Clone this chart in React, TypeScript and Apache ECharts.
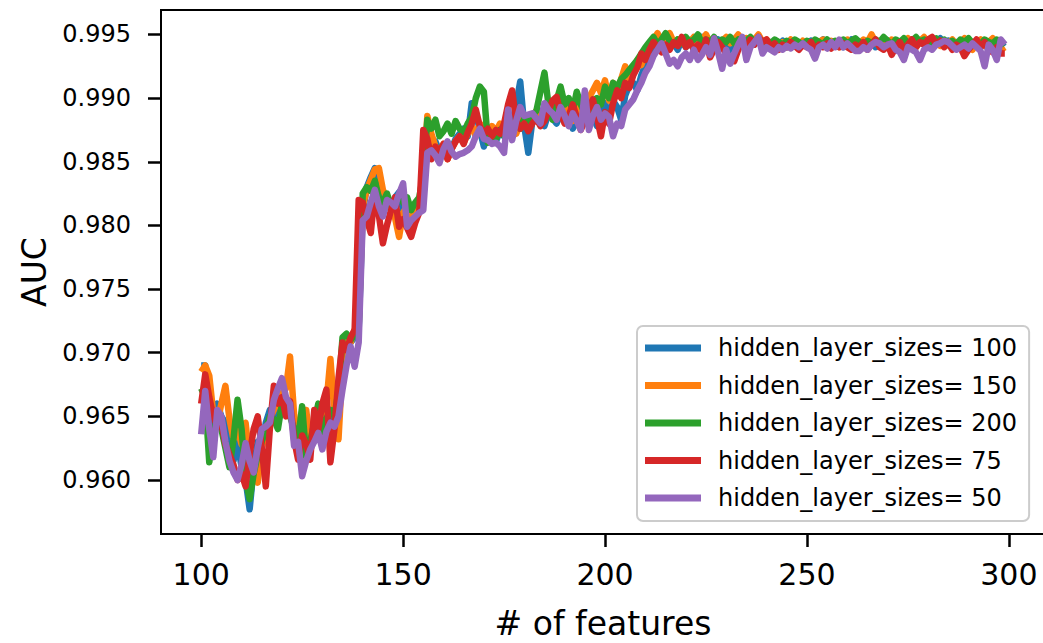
import React, { useEffect, useRef } from "react";
import * as echarts from "echarts";

const FONT = "DejaVu Sans";

// x values: number of features (100 .. 299)
const FEATURES = Array.from({ length: 200 }, (_, i) => 100 + i);
const X_TICKS = [100, 150, 200, 250, 300];
const Y_TICKS = [0.96, 0.965, 0.97, 0.975, 0.98, 0.985, 0.99, 0.995];

const SERIES_NAMES = [
  "hidden_layer_sizes= 100",
  "hidden_layer_sizes= 150",
  "hidden_layer_sizes= 200",
  "hidden_layer_sizes= 75",
  "hidden_layer_sizes= 50",
];
const COLORS = ["#1f77b4", "#ff7f0e", "#2ca02c", "#d62728", "#9467bd"];

const AUC_100 = [
  0.9690, 0.9690, 0.9655, 0.9640, 0.9660, 0.9650, 0.9645, 0.9625, 0.9615, 0.9630,
  0.9610, 0.9600, 0.9577, 0.9610, 0.9630, 0.9625, 0.9645, 0.9655, 0.9650, 0.9665,
  0.9668, 0.9660, 0.9655, 0.9640, 0.9628, 0.9632, 0.9625, 0.9638, 0.9642, 0.9648,
  0.9632, 0.9650, 0.9645, 0.9652, 0.9668, 0.9700, 0.9712, 0.9708, 0.9712, 0.9718,
  0.9810, 0.9830, 0.9838, 0.9845, 0.9832, 0.9822, 0.9818, 0.9812, 0.9822, 0.9826,
  0.9812, 0.9818, 0.9812, 0.9816, 0.9820, 0.9830, 0.9872, 0.9860, 0.9866, 0.9858,
  0.9856, 0.9865, 0.9860, 0.9868, 0.9872, 0.9876, 0.9870, 0.9896, 0.9888, 0.9875,
  0.9862, 0.9872, 0.9868, 0.9866, 0.9874, 0.9870, 0.9872, 0.9880, 0.9895, 0.9913,
  0.9878, 0.9857, 0.9882, 0.9886, 0.9890, 0.9878, 0.9888, 0.9884, 0.9880, 0.9888,
  0.9884, 0.9890, 0.9876, 0.9882, 0.9896, 0.9886, 0.9880, 0.9886, 0.9878, 0.9892,
  0.9896, 0.9884, 0.9898, 0.9893, 0.9883, 0.9902, 0.9910, 0.9912, 0.9906, 0.9918,
  0.9926, 0.9932, 0.9940, 0.9944, 0.9938, 0.9946, 0.9940, 0.9943, 0.9938, 0.9946,
  0.9940, 0.9945, 0.9938, 0.9942, 0.9948, 0.9940, 0.9936, 0.9942, 0.9946, 0.9940,
  0.9944, 0.9938, 0.9943, 0.9948, 0.9941, 0.9944, 0.9947, 0.9942, 0.9949, 0.9944,
  0.9940, 0.9944, 0.9938, 0.9942, 0.9945, 0.9940, 0.9943, 0.9945, 0.9941, 0.9944,
  0.9942, 0.9945, 0.9940, 0.9943, 0.9946, 0.9941, 0.9944, 0.9942, 0.9945, 0.9940,
  0.9943, 0.9946, 0.9941, 0.9938, 0.9944, 0.9942, 0.9946, 0.9940, 0.9944, 0.9942,
  0.9945, 0.9938, 0.9942, 0.9944, 0.9940, 0.9943, 0.9946, 0.9941, 0.9944, 0.9942,
  0.9946, 0.9940, 0.9944, 0.9947, 0.9942, 0.9945, 0.9941, 0.9944, 0.9942, 0.9946,
  0.9940, 0.9944, 0.9942, 0.9945, 0.9941, 0.9944, 0.9940, 0.9943, 0.9942, 0.9944,
];

const AUC_150 = [
  0.9685, 0.9690, 0.9682, 0.9652, 0.9645, 0.9660, 0.9674, 0.9648, 0.9632, 0.9640,
  0.9628, 0.9645, 0.9615, 0.9605, 0.9598, 0.9625, 0.9640, 0.9648, 0.9655, 0.9662,
  0.9668, 0.9672, 0.9697, 0.9652, 0.9632, 0.9622, 0.9655, 0.9628, 0.9640, 0.9632,
  0.9645, 0.9660, 0.9695, 0.9652, 0.9632, 0.9690, 0.9712, 0.9708, 0.9718, 0.9722,
  0.9815, 0.9828, 0.9836, 0.9844, 0.9845, 0.9828, 0.9820, 0.9812, 0.9806, 0.9791,
  0.9810, 0.9815, 0.9805, 0.9812, 0.9818, 0.9838, 0.9886, 0.9872, 0.9862, 0.9858,
  0.9864, 0.9852, 0.9860, 0.9866, 0.9870, 0.9865, 0.9872, 0.9878, 0.9870, 0.9880,
  0.9876, 0.9872, 0.9878, 0.9874, 0.9880, 0.9876, 0.9884, 0.9878, 0.9872, 0.9880,
  0.9885, 0.9878, 0.9886, 0.9890, 0.9882, 0.9888, 0.9894, 0.9884, 0.9890, 0.9898,
  0.9886, 0.9892, 0.9882, 0.9888, 0.9896, 0.9890, 0.9900, 0.9906, 0.9912, 0.9904,
  0.9914, 0.9898, 0.9912, 0.9902, 0.9915, 0.9925, 0.9912, 0.9920, 0.9930, 0.9926,
  0.9935, 0.9940, 0.9946, 0.9951, 0.9944, 0.9948, 0.9951, 0.9944, 0.9946, 0.9943,
  0.9947, 0.9944, 0.9948, 0.9942, 0.9946, 0.9950, 0.9943, 0.9946, 0.9940, 0.9945,
  0.9948, 0.9943, 0.9946, 0.9950, 0.9944, 0.9947, 0.9942, 0.9946, 0.9950, 0.9944,
  0.9946, 0.9942, 0.9945, 0.9940, 0.9944, 0.9942, 0.9946, 0.9943, 0.9941, 0.9945,
  0.9942, 0.9944, 0.9940, 0.9944, 0.9946, 0.9942, 0.9945, 0.9943, 0.9940, 0.9944,
  0.9946, 0.9942, 0.9945, 0.9943, 0.9946, 0.9944, 0.9950, 0.9944, 0.9941, 0.9945,
  0.9942, 0.9946, 0.9944, 0.9940, 0.9944, 0.9947, 0.9943, 0.9940, 0.9945, 0.9948,
  0.9943, 0.9946, 0.9944, 0.9941, 0.9945, 0.9943, 0.9946, 0.9942, 0.9944, 0.9947,
  0.9942, 0.9938, 0.9944, 0.9946, 0.9941, 0.9944, 0.9947, 0.9942, 0.9938, 0.9940,
];

const AUC_200 = [
  0.9672, 0.9665, 0.9614, 0.9635, 0.9650, 0.9640, 0.9625, 0.9610, 0.9632, 0.9663,
  0.9640, 0.9600, 0.9585, 0.9605, 0.9620, 0.9630, 0.9640, 0.9650, 0.9648, 0.9640,
  0.9660, 0.9655, 0.9650, 0.9640, 0.9632, 0.9658, 0.9618, 0.9630, 0.9645, 0.9660,
  0.9638, 0.9648, 0.9655, 0.9650, 0.9670, 0.9712, 0.9715, 0.9710, 0.9714, 0.9720,
  0.9825, 0.9830, 0.9827, 0.9835, 0.9822, 0.9818, 0.9825, 0.9815, 0.9820, 0.9824,
  0.9818, 0.9822, 0.9812, 0.9818, 0.9822, 0.9840, 0.9883, 0.9876, 0.9883, 0.9870,
  0.9874, 0.9880, 0.9872, 0.9882, 0.9876, 0.9873, 0.9880, 0.9885, 0.9900, 0.9909,
  0.9905, 0.9865, 0.9872, 0.9868, 0.9875, 0.9870, 0.9878, 0.9874, 0.9880, 0.9876,
  0.9884, 0.9880, 0.9886, 0.9890, 0.9905, 0.9920, 0.9895, 0.9883, 0.9898, 0.9909,
  0.9895, 0.9900, 0.9890, 0.9905, 0.9895, 0.9888, 0.9882, 0.9898, 0.9900, 0.9895,
  0.9909, 0.9900, 0.9912, 0.9908, 0.9915, 0.9918, 0.9922, 0.9926, 0.9930, 0.9935,
  0.9940, 0.9944, 0.9948, 0.9942, 0.9946, 0.9951, 0.9945, 0.9942, 0.9946, 0.9943,
  0.9948, 0.9944, 0.9946, 0.9950, 0.9943, 0.9946, 0.9944, 0.9948, 0.9942, 0.9946,
  0.9944, 0.9948, 0.9943, 0.9946, 0.9942, 0.9945, 0.9948, 0.9944, 0.9946, 0.9942,
  0.9945, 0.9943, 0.9946, 0.9944, 0.9942, 0.9945, 0.9943, 0.9946, 0.9944, 0.9942,
  0.9945, 0.9943, 0.9946, 0.9944, 0.9942, 0.9946, 0.9943, 0.9945, 0.9944, 0.9946,
  0.9943, 0.9945, 0.9947, 0.9944, 0.9942, 0.9945, 0.9943, 0.9946, 0.9944, 0.9948,
  0.9945, 0.9942, 0.9946, 0.9944, 0.9947, 0.9943, 0.9945, 0.9948, 0.9944, 0.9946,
  0.9942, 0.9945, 0.9947, 0.9944, 0.9946, 0.9943, 0.9945, 0.9942, 0.9946, 0.9944,
  0.9947, 0.9943, 0.9945, 0.9942, 0.9946, 0.9944, 0.9943, 0.9946, 0.9944, 0.9942,
];

const AUC_75 = [
  0.9660, 0.9683, 0.9665, 0.9650, 0.9642, 0.9645, 0.9628, 0.9620, 0.9612, 0.9600,
  0.9605, 0.9595, 0.9620, 0.9640, 0.9650, 0.9625, 0.9595, 0.9640, 0.9674, 0.9660,
  0.9665, 0.9650, 0.9662, 0.9632, 0.9616, 0.9635, 0.9628, 0.9616, 0.9655, 0.9640,
  0.9660, 0.9671, 0.9614, 0.9640, 0.9680, 0.9708, 0.9702, 0.9712, 0.9718, 0.9820,
  0.9818, 0.9805, 0.9794, 0.9826, 0.9808, 0.9786, 0.9800, 0.9812, 0.9822, 0.9799,
  0.9805, 0.9798, 0.9791, 0.9802, 0.9810, 0.9875, 0.9868, 0.9852, 0.9862, 0.9858,
  0.9864, 0.9852, 0.9860, 0.9866, 0.9870, 0.9864, 0.9873, 0.9880, 0.9891, 0.9878,
  0.9872, 0.9876, 0.9870, 0.9875, 0.9872, 0.9880, 0.9895, 0.9906, 0.9882, 0.9876,
  0.9880, 0.9874, 0.9880, 0.9884, 0.9878, 0.9882, 0.9890, 0.9898, 0.9901, 0.9888,
  0.9880, 0.9886, 0.9895, 0.9885, 0.9875, 0.9882, 0.9892, 0.9899, 0.9885, 0.9870,
  0.9889, 0.9880, 0.9896, 0.9906, 0.9900, 0.9912, 0.9908, 0.9918, 0.9924, 0.9935,
  0.9930, 0.9938, 0.9944, 0.9940, 0.9936, 0.9942, 0.9938, 0.9944, 0.9941, 0.9948,
  0.9940, 0.9944, 0.9938, 0.9942, 0.9936, 0.9946, 0.9932, 0.9938, 0.9944, 0.9940,
  0.9935, 0.9932, 0.9929, 0.9938, 0.9945, 0.9940, 0.9946, 0.9942, 0.9948, 0.9944,
  0.9946, 0.9940, 0.9943, 0.9938, 0.9942, 0.9940, 0.9944, 0.9941, 0.9938, 0.9942,
  0.9940, 0.9944, 0.9938, 0.9942, 0.9940, 0.9943, 0.9939, 0.9942, 0.9940, 0.9943,
  0.9940, 0.9938, 0.9942, 0.9940, 0.9944, 0.9938, 0.9942, 0.9946, 0.9940, 0.9938,
  0.9942, 0.9934, 0.9940, 0.9944, 0.9938, 0.9942, 0.9946, 0.9940, 0.9944, 0.9942,
  0.9946, 0.9948, 0.9942, 0.9945, 0.9940, 0.9943, 0.9938, 0.9942, 0.9940, 0.9933,
  0.9938, 0.9942, 0.9946, 0.9940, 0.9944, 0.9938, 0.9936, 0.9940, 0.9935, 0.9935,
];

const AUC_50 = [
  0.9636, 0.9670, 0.9640, 0.9618, 0.9655, 0.9650, 0.9630, 0.9615, 0.9606, 0.9600,
  0.9612, 0.9629, 0.9615, 0.9606, 0.9625, 0.9640, 0.9642, 0.9645, 0.9663, 0.9672,
  0.9680, 0.9665, 0.9660, 0.9627, 0.9630, 0.9603, 0.9615, 0.9624, 0.9630, 0.9637,
  0.9624, 0.9638, 0.9645, 0.9642, 0.9650, 0.9671, 0.9690, 0.9705, 0.9689, 0.9708,
  0.9804, 0.9807, 0.9818, 0.9828, 0.9815, 0.9807, 0.9820, 0.9818, 0.9815, 0.9825,
  0.9833, 0.9799, 0.9804, 0.9807, 0.9810, 0.9812, 0.9857, 0.9859, 0.9855, 0.9849,
  0.9860, 0.9866, 0.9858, 0.9854, 0.9856, 0.9857, 0.9859, 0.9862, 0.9870, 0.9876,
  0.9868, 0.9867, 0.9864, 0.9865, 0.9862, 0.9857, 0.9891, 0.9867, 0.9882, 0.9893,
  0.9886, 0.9887, 0.9888, 0.9884, 0.9880, 0.9896, 0.9891, 0.9888, 0.9883, 0.9893,
  0.9886, 0.9878, 0.9888, 0.9882, 0.9875, 0.9906, 0.9875, 0.9886, 0.9893, 0.9883,
  0.9888, 0.9885, 0.9870, 0.9880, 0.9878, 0.9891, 0.9895, 0.9899, 0.9906, 0.9912,
  0.9920, 0.9925, 0.9933, 0.9938, 0.9943, 0.9935, 0.9927, 0.9930, 0.9925, 0.9932,
  0.9935, 0.9930, 0.9938, 0.9930, 0.9934, 0.9940, 0.9934, 0.9947, 0.9936, 0.9923,
  0.9938, 0.9927, 0.9935, 0.9942, 0.9948, 0.9930, 0.9940, 0.9944, 0.9948, 0.9935,
  0.9940, 0.9938, 0.9936, 0.9940, 0.9938, 0.9941, 0.9939, 0.9942, 0.9940, 0.9943,
  0.9940, 0.9938, 0.9931, 0.9940, 0.9942, 0.9939, 0.9944, 0.9940, 0.9946, 0.9940,
  0.9943, 0.9940, 0.9937, 0.9937, 0.9940, 0.9938, 0.9942, 0.9944, 0.9943, 0.9940,
  0.9942, 0.9943, 0.9938, 0.9936, 0.9930, 0.9940, 0.9938, 0.9936, 0.9930, 0.9938,
  0.9940, 0.9938, 0.9942, 0.9943, 0.9945, 0.9944, 0.9941, 0.9938, 0.9940, 0.9942,
  0.9939, 0.9943, 0.9940, 0.9937, 0.9925, 0.9942, 0.9938, 0.9930, 0.9946, 0.9942,
];

const SERIES_VALUES = [AUC_100, AUC_150, AUC_200, AUC_75, AUC_50];

export default function App() {
  const ref = useRef<HTMLDivElement>(null);

  useEffect(() => {
    if (!ref.current) return;
    const chart = echarts.init(ref.current, null, { renderer: "svg" });
    const black = "#000000";
    chart.setOption({
      animation: false,
      backgroundColor: "#ffffff",
      grid: {
        left: 161,
        right: -2,
        top: 10,
        bottom: 109,
        show: true,
        borderColor: black,
        borderWidth: 2,
        backgroundColor: "transparent",
        containLabel: false,
        outerBoundsMode: "none",
      },
      xAxis: {
        type: "value",
        min: 90.05,
        max: 308.95,
        name: "# of features",
        nameLocation: "middle",
        nameGap: 73,
        nameTextStyle: { fontSize: 33, color: black, fontFamily: FONT },
        axisLine: { show: true, lineStyle: { color: black, width: 2 } },
        axisTick: {
          show: true,
          customValues: X_TICKS,
          length: 13,
          lineStyle: { color: black, width: 2.5 },
        },
        axisLabel: {
          customValues: X_TICKS,
          fontSize: 30,
          margin: 25,
          color: black,
          fontFamily: FONT,
        },
        splitLine: { show: false },
      },
      yAxis: {
        type: "value",
        min: 0.95576,
        max: 0.99692,
        name: "AUC",
        nameLocation: "middle",
        nameGap: 108,
        nameTextStyle: { fontSize: 33, color: black, fontFamily: FONT },
        axisLine: { show: true, lineStyle: { color: black, width: 2 } },
        axisTick: {
          show: true,
          customValues: Y_TICKS,
          length: 13,
          lineStyle: { color: black, width: 2.5 },
        },
        axisLabel: {
          customValues: Y_TICKS,
          fontSize: 24,
          margin: 30,
          color: black,
          fontFamily: FONT,
          formatter: (v: number) => v.toFixed(3),
        },
        splitLine: { show: false },
      },
      legend: {
        orient: "vertical",
        left: 637,
        top: 326,
        data: SERIES_NAMES,
        icon: "rect",
        itemWidth: 56,
        itemHeight: 7,
        itemGap: 13.5,
        textStyle: {
          fontSize: 24,
          color: black,
          fontFamily: FONT,
          padding: [0, 0, 0, 12],
        },
        backgroundColor: "rgba(255,255,255,0.8)",
        borderColor: "#cccccc",
        borderWidth: 2,
        borderRadius: 6,
        padding: [10, 12, 11, 8],
      },
      series: SERIES_NAMES.map((name, k) => ({
        name,
        type: "line",
        data: FEATURES.map((f, i) => [f, SERIES_VALUES[k][i]]),
        symbol: "none",
        showSymbol: false,
        color: COLORS[k],
        lineStyle: { width: 6.5, color: COLORS[k], join: "round", cap: "butt" },
      })),
    });
    return () => chart.dispose();
  }, []);

  return (
    <div
      ref={ref}
      style={{ position: "absolute", left: 0, top: 0, width: 1043, height: 643 }}
    />
  );
}
